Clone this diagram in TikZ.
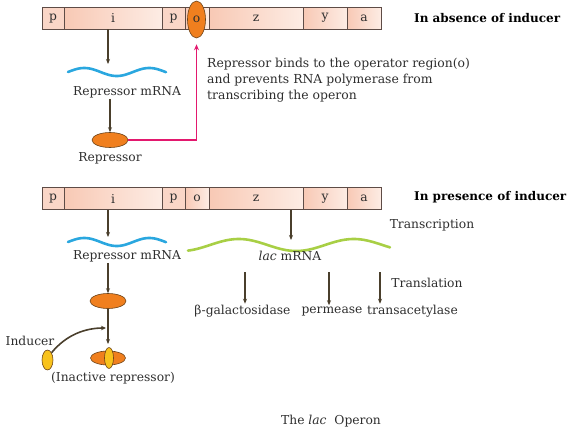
\documentclass[tikz,border=0pt]{standalone}
\usepackage{fontspec}
\setmainfont{DejaVu Serif}
\usetikzlibrary{arrows.meta,shapes.geometric}
\definecolor{txt}{HTML}{2E2E2E}
\definecolor{segline}{HTML}{5E4C46}
\definecolor{segL}{HTML}{F8C9B5}
\definecolor{segR}{HTML}{FDECE4}
\definecolor{segP}{HTML}{FAD6C7}
\definecolor{arrc}{HTML}{4A3F2C}
\definecolor{orangef}{HTML}{F07F1E}
\definecolor{ellc}{HTML}{6B4218}
\definecolor{yellowf}{HTML}{F8C21C}
\definecolor{bluew}{HTML}{2AA7DF}
\definecolor{greenw}{HTML}{A8CF45}
\definecolor{pinkc}{HTML}{E3186E}
\tikzset{
  seg/.style={draw=segline, line width=0.7pt, minimum height=22pt, inner sep=0pt, left color=segL, right color=segR, text=txt},
  segp/.style={draw=segline, line width=0.7pt, minimum height=22pt, inner sep=0pt, fill=segP, text=txt},
  arr/.style={draw=arrc, line width=1.2pt, -{Stealth[length=5pt,width=4pt]}},
  orel/.style={ellipse, draw=ellc, line width=0.6pt, fill=orangef, inner sep=0pt},
  yel/.style={ellipse, draw=ellc, line width=0.6pt, fill=yellowf, inner sep=0pt},
  lbl/.style={text=txt, inner sep=1pt},
  head/.style={text=black, inner sep=1pt, font=\fontsize{12}{14}\selectfont\bfseries},
  wave/.style={line width=2.6pt, line cap=round}
}
\begin{document}
\begin{tikzpicture}[x=1pt,y=-1pt, font=\fontsize{12.3}{16}\selectfont]
\useasboundingbox (0,0) rectangle (574,434);
% ---------- top gene bar ----------
\node[segp, minimum width=22pt] (tp1) at (53,18) {p};
\node[seg, minimum width=98pt] (ti) at (113,18) {i};
\node[segp, minimum width=23pt] (tp2) at (173.5,18) {p};
\node[seg, minimum width=24pt] (to) at (197,18) {o};
\node[seg, minimum width=94pt] (tz) at (256,18) {z};
\node[seg, minimum width=44pt] (ty) at (325,18) {y};
\node[seg, minimum width=34pt] (ta) at (364,18) {a};
\node[orel, minimum width=18pt, minimum height=37pt, text=txt] (opel) at (196.5,19.5) {o};
\node[head, anchor=west] (h1) at (413,18) {In absence of inducer};
% repressor path
\draw[wave, draw=bluew] plot[domain=68:166, samples=70, smooth] (\x, {72 - 4*sin(5.5385*(\x-68))});
\coordinate (w1) at (108,64);
\draw[arr] (ti.south -| w1) -- (w1);
\node[lbl] (rm1) at (127,92) {Repressor mRNA};
\node[orel, minimum width=36pt, minimum height=15pt] (rep1) at (110,140) {};
\draw[arr] (rm1.south -| rep1) -- (rep1.north);
\node[lbl] (rt1) at (110,158) {Repressor};
\draw[draw=pinkc, line width=1.4pt, -{Stealth[length=6pt,width=5pt]}, shorten >=6pt] (rep1.east) -| (opel.south);
\node[lbl, anchor=north west, align=left, font=\fontsize{12.4}{16}\selectfont] (note) at (206,56.5) {Repressor binds to the operator region(o)\\and prevents RNA polymerase from\\transcribing the operon};
% ---------- bottom gene bar ----------
\node[segp, minimum width=22pt] (bp1) at (53,198.5) {p};
\node[seg, minimum width=98pt] (bi) at (113,198.5) {i};
\node[segp, minimum width=23pt] (bp2) at (173.5,198.5) {p};
\node[seg, minimum width=24pt] (bo) at (197,198.5) {o};
\node[seg, minimum width=94pt] (bz) at (256,198.5) {z};
\node[seg, minimum width=44pt] (by) at (325,198.5) {y};
\node[seg, minimum width=34pt] (ba) at (364,198.5) {a};
\node[head, anchor=west] (h2) at (413,197) {In presence of inducer};
\draw[wave, draw=bluew] plot[domain=68:166, samples=70, smooth] (\x, {242 - 4*sin(5.5385*(\x-68))});
\coordinate (w2) at (108,237);
\draw[arr] (bi.south -| w2) -- (w2);
\node[lbl] (rm2) at (127,256) {Repressor mRNA};
\node[orel, minimum width=36pt, minimum height=15pt] (rep2) at (108,301) {};
\draw[arr] (rm2.south -| rep2) -- (rep2.north);
\node[orel, minimum width=35pt, minimum height=14pt] (inact) at (108,358) {};
\node[yel, minimum width=9pt, minimum height=21pt] (indb) at (109,358) {};
\coordinate (ia) at (108,344);
\draw[arr] (rep2.south) -- (ia);
\node[yel, minimum width=11pt, minimum height=20pt] (ind) at (47.5,360) {};
\node[lbl] (indt) at (30,341) {Inducer};
\coordinate (ca) at (106,328);
\draw[draw=arrc, line width=1.6pt, -{Stealth[length=5pt,width=4.5pt]}] (ind.north east) .. controls (66,335) and (85,328) .. (ca);
\node[lbl] (inat) at (113,378) {(Inactive repressor)};
% lac mRNA
\draw[wave, draw=greenw] plot[domain=188:390, samples=120, smooth] (\x, {245 - 6*sin(3.1304*(\x-210))});
\coordinate (w3) at (291,240);
\draw[arr] (bz.south -| w3) -- (w3);
\node[lbl] (lacm) at (290,256) {\textit{lac} mRNA};
\node[lbl] (trc) at (432,225) {Transcription};
\node[lbl] (trl) at (427,283) {Translation};
\node[lbl] (bgal) at (242.5,311) {β-galactosidase};
\node[lbl] (perm) at (332,311) {permease};
\node[lbl] (tace) at (412.5,311) {transacetylase};
\coordinate (t1) at (245,272);
\coordinate (t2) at (329,272);
\coordinate (t3) at (380,272);
\draw[arr] (t1) -- (t1 |- bgal.north);
\draw[arr] (t2) -- (t2 |- perm.north);
\draw[arr] (t3) -- (t3 |- tace.north);
\node[lbl] (title) at (331,421) {The \textit{lac}\ \ Operon};
\end{tikzpicture}
\end{document}
